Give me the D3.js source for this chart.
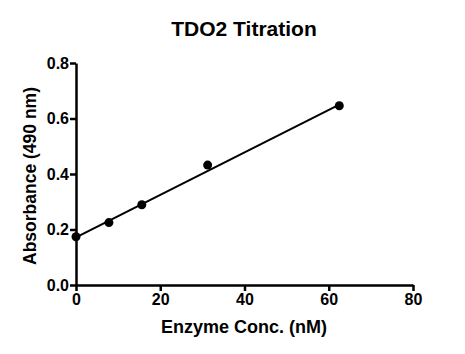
<!DOCTYPE html>
<html>
<head>
<meta charset="utf-8">
<script src="https://cdn.jsdelivr.net/npm/d3@7"></script>
<style>
  body { margin: 0; background: #fff; }
  text { font-family: "Liberation Sans", Arial, sans-serif; font-weight: bold; fill: #000; }
  .osa path, .osa line { stroke: #000; stroke-width: 2.5px; }
  .osa text { font-size: 16px; }
</style>
</head>
<body>
<div id="okvir"></div>
<script>
// podaci ocitani sa slike
const koncentracija = [0, 7.8125, 15.625, 31.25, 62.5]
const apsorbancija = [0.174, 0.225, 0.289, 0.432, 0.646]
const fitX = [0, 62.5]
const fitY = [0.172, 0.650]
const xTikovi = [0, 20, 40, 60, 80]
const yTikovi = [0, 0.2, 0.4, 0.6, 0.8]

function crtaj() {
  const dimenzije = {
    sirina: 465,
    visina: 354,
    margine: { top: 63, right: 52, bottom: 69, left: 76 },
  }
  dimenzije.grSirina = dimenzije.sirina - dimenzije.margine.left - dimenzije.margine.right
  dimenzije.grVisina = dimenzije.visina - dimenzije.margine.top - dimenzije.margine.bottom

  const okvir = d3.select("#okvir").append("svg")
    .attr("width", dimenzije.sirina)
    .attr("height", dimenzije.visina)

  const granice = okvir.append("g")
    .attr("transform", `translate(${dimenzije.margine.left},${dimenzije.margine.top})`)

  const xSkala = d3.scaleLinear().domain([0, 80]).range([0, 337])
  const ySkala = d3.scaleLinear().domain([0, 0.8]).range([dimenzije.grVisina, 0])

  // fit linija
  const linija = d3.line().x(d => xSkala(d[0])).y(d => ySkala(d[1]))
  granice.append("path")
    .datum(d3.zip(fitX, fitY))
    .attr("d", linija)
    .attr("fill", "none")
    .attr("stroke", "#000")
    .attr("stroke-width", 2)

  granice.selectAll("circle")
    .data(d3.zip(koncentracija, apsorbancija))
    .enter().append("circle")
      .attr("cx", d => xSkala(d[0]))
      .attr("cy", d => ySkala(d[1]))
      .attr("r", 4.5)
      .attr("fill", "#000")

  // osi
  granice.append("g")
    .attr("class", "osa")
    .attr("transform", `translate(0,${dimenzije.grVisina})`)
    .call(d3.axisBottom(xSkala).tickValues(xTikovi).tickSize(6).tickSizeOuter(0).tickPadding(3))
  granice.append("g")
    .attr("class", "osa")
    .call(d3.axisLeft(ySkala).tickValues(yTikovi).tickFormat(d3.format(".1f")).tickSize(6).tickSizeOuter(0).tickPadding(1))

  okvir.append("text")
    .attr("x", 244)
    .attr("y", 36)
    .attr("text-anchor", "middle")
    .style("font-size", "21px")
    .text("TDO2 Titration")

  okvir.append("text")
    .attr("x", 244)
    .attr("y", 333)
    .attr("text-anchor", "middle")
    .style("font-size", "18px")
    .text("Enzyme Conc. (nM)")

  okvir.append("text")
    .attr("transform", "translate(36,176) rotate(-90)")
    .attr("text-anchor", "middle")
    .style("font-size", "17.5px")
    .text("Absorbance (490 nm)")
}
crtaj()
</script>
</body>
</html>
